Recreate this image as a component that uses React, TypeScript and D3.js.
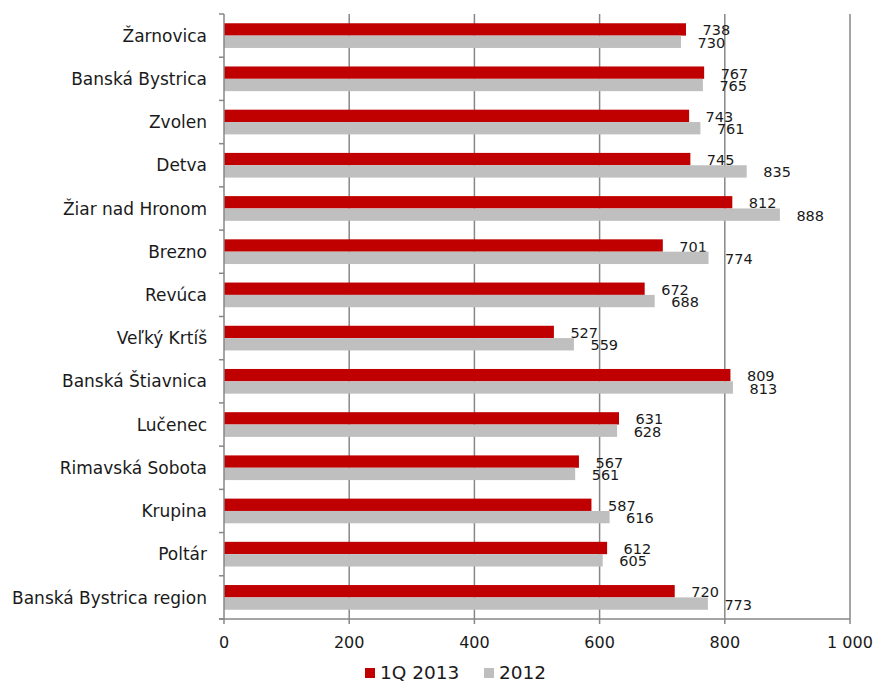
import React from "react";
import * as d3 from "d3";

const categories = [
  "Žarnovica",
  "Banská Bystrica",
  "Zvolen",
  "Detva",
  "Žiar nad Hronom",
  "Brezno",
  "Revúca",
  "Veľký Krtíš",
  "Banská Štiavnica",
  "Lučenec",
  "Rimavská Sobota",
  "Krupina",
  "Poltár",
  "Banská Bystrica region",
];
const values2013Q1 = [738, 767, 743, 745, 812, 701, 672, 527, 809, 631, 567, 587, 612, 720];
const values2012 = [730, 765, 761, 835, 888, 774, 688, 559, 813, 628, 561, 616, 605, 773];
const seriesNames = ["1Q 2013", "2012"];
const seriesColors = ["#C00000", "#BFBFBF"];
const xTicks = [0, 200, 400, 600, 800, 1000];

const W = 877;
const H = 681;
const left = 224;
const right = 850;
const top = 14;
const bottom = 619;
const FONT = "'DejaVu Sans', Verdana, sans-serif";
const GRID = "#878787";
const TEXT = "#1a1a1a";

const fmt = d3
  .formatLocale({ thousands: " ", grouping: [3], decimal: ",", currency: ["", ""] })
  .format(",d");

export default function App() {
  const x = d3.scaleLinear().domain([0, 1000]).range([left, right]);
  const y = d3.scaleBand<string>().domain(categories).range([top, bottom]).paddingInner(0).paddingOuter(0);
  const bw = y.bandwidth();
  const barH = bw / 3.5;
  const gap = (bw - 2 * barH) / 2;
  const series = [values2013Q1, values2012];

  return (
    <svg
      width={W}
      height={H}
      style={{ position: "absolute", left: 0, top: 0, background: "#fff" }}
      fontFamily={FONT}
    >
      {/* gridlines */}
      {xTicks.slice(1).map((t) => (
        <line key={"g" + t} x1={x(t)} x2={x(t)} y1={top} y2={bottom} stroke={GRID} strokeWidth={1.5} />
      ))}
      {/* bars */}
      {categories.map((c, i) => (
        <g key={c}>
          {series.map((s, k) => {
            const yy = (y(c) as number) + gap + k * barH;
            return (
              <g key={k}>
                <rect x={x(0)} y={yy} width={x(s[i]) - x(0)} height={barH} fill={seriesColors[k]} />
                <text
                  x={x(s[i]) + 16.5}
                  y={yy + barH / 2 + 0.8}
                  dy="0.36em"
                  fontSize={14.5}
                  fill={TEXT}
                >
                  {s[i]}
                </text>
              </g>
            );
          })}
          <text
            x={207}
            y={(y(c) as number) + bw / 2}
            dy="0.36em"
            textAnchor="end"
            fontSize={17}
            fill={TEXT}
          >
            {c}
          </text>
        </g>
      ))}
      {/* y axis */}
      <line x1={left} x2={left} y1={top} y2={bottom} stroke={GRID} strokeWidth={1.5} />
      {d3.range(categories.length + 1).map((i) => {
        const yy = top + i * bw;
        return <line key={"yt" + i} x1={left - 5} x2={left} y1={yy} y2={yy} stroke={GRID} strokeWidth={1.5} />;
      })}
      {/* x axis */}
      <line x1={left - 5} x2={right} y1={bottom} y2={bottom} stroke={GRID} strokeWidth={1.5} />
      {xTicks.map((t) => (
        <g key={"xt" + t}>
          <line x1={x(t)} x2={x(t)} y1={bottom} y2={bottom + 5} stroke={GRID} strokeWidth={1.5} />
          <text x={x(t)} y={648} textAnchor="middle" fontSize={16} fill={TEXT}>
            {fmt(t)}
          </text>
        </g>
      ))}
      {/* legend */}
      {[365, 484].map((lx, k) => (
        <g key={"lg" + k}>
          <rect x={lx} y={668} width={10} height={10} fill={seriesColors[k]} />
          <text x={lx + 15} y={678.5} fontSize={18.5} fill={TEXT}>
            {seriesNames[k]}
          </text>
        </g>
      ))}
    </svg>
  );
}
